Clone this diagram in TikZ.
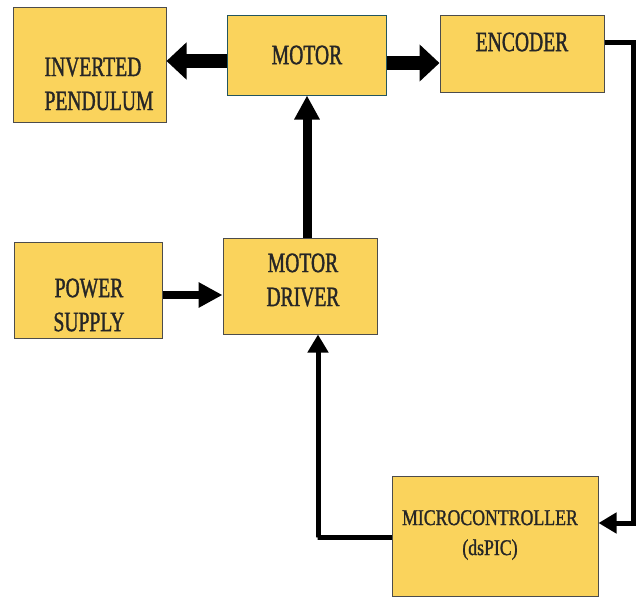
\documentclass[tikz,border=0pt]{standalone}
\usepackage{fontspec}
\usepackage{xcolor}
\usepackage{tikz}
\setmainfont{Liberation Serif}[FakeStretch=0.7, FakeBold=1.2]
\newfontfamily\microfont{Liberation Serif}[FakeStretch=0.79, FakeBold=1.1]
\usetikzlibrary{arrows.meta}

\definecolor{boxfill}{RGB}{250,211,92}
\definecolor{motoredge}{RGB}{35,85,95}

\tikzset{
  blk/.style={draw=black!70, fill=boxfill, line width=1pt, inner sep=0pt},
  lbl/.style={align=center, text=black!85, font=\fontsize{28}{34}\selectfont},
  fat/.style={line width=14pt, -{Triangle[length=20pt,width=36pt]}},
  mid/.style={line width=9pt, -{Triangle[length=24pt,width=24pt]}},
  thin/.style={line width=5pt, -{Triangle[length=18pt,width=20pt]}}
}

\begin{document}
\begin{tikzpicture}[x=1pt, y=-1pt]
            \useasboundingbox (0,0) rectangle (641,598);

            \node[blk, minimum width=153pt, minimum height=115pt] (pend) at (89.5, 64.5) {};
            \node[lbl, align=left] (pendtxt) at (99, 84) {INVERTED\\PENDULUM};
            \node[blk, draw=motoredge, minimum width=159pt, minimum height=80pt] (motor) at (306.5, 55) {};
            \node[lbl] (motortxt) at (307, 55) {MOTOR};
            \node[blk, minimum width=164pt, minimum height=77pt] (enc) at (522, 53.5) {};
            \node[lbl] (enctxt) at (522, 42) {ENCODER};
            \node[blk, minimum width=148pt, minimum height=96pt] (power) at (88, 290) {};
            \node[lbl] (powertxt) at (89, 305) {POWER\\SUPPLY};
            \node[blk, minimum width=154pt, minimum height=96pt] (driver) at (300, 286) {};
            \node[lbl] (drivertxt) at (303, 280) {MOTOR\\DRIVER};
            \node[blk, minimum width=206pt, minimum height=120pt] (micro) at (495, 536) {};
            \node[lbl, font=\microfont\fontsize{22.5}{30}\selectfont] (microtxt) at (490, 535) {MICROCONTROLLER\\(dsPIC)};

            \draw[fat] ([yshift=-6pt]motor.west) -- ([yshift=-6pt]motor.west -| pend.east); % motor-pendulum
            \draw[fat] ([yshift=-8pt]motor.east) -- ([yshift=-8pt]motor.east -| enc.west); % motor-encoder
            \draw[mid] ([xshift=7pt]driver.north) -- ([xshift=7pt]driver.north |- motor.south); % driver-motor
            \draw[mid, line width=8pt] ([yshift=-5pt]power.east) -- ([yshift=-5pt]power.east -| driver.west); % power-driver
            \draw[thin] ([yshift=11.5pt]enc.east) -- ++(29,0) |- ([yshift=13pt]micro.east); % encoder-micro
            \draw[thin] ([yshift=-1pt]micro.west) -- ++(-74,0) -| ([xshift=18pt]driver.south); % micro-driver
        \end{tikzpicture}
\end{document}
